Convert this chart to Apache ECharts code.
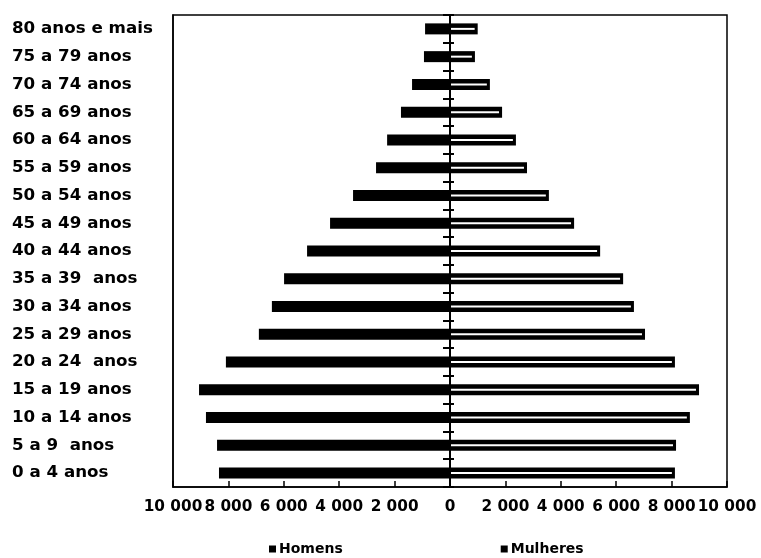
<!DOCTYPE html>
<html>
<head>
<meta charset="utf-8">
<script src="https://cdn.jsdelivr.net/npm/echarts@6/dist/echarts.min.js"></script>
<style>
html,body{margin:0;padding:0;background:#fff;}
#chart{width:761px;height:558px;}
</style>
</head>
<body>
<div id="chart"></div>
<script>
var categories = ["0 a 4 anos","5 a 9  anos","10 a 14 anos","15 a 19 anos","20 a 24  anos","25 a 29 anos","30 a 34 anos","35 a 39  anos","40 a 44 anos","45 a 49 anos","50 a 54 anos","55 a 59 anos","60 a 64 anos","65 a 69 anos","70 a 74 anos","75 a 79 anos","80 anos e mais"];
var homens = [8340, 8410, 8810, 9060, 8090, 6900, 6430, 5990, 5160, 4330, 3500, 2670, 2270, 1770, 1370, 940, 900];
var mulheres = [8120, 8160, 8660, 8990, 8120, 7040, 6640, 6250, 5420, 4480, 3570, 2780, 2380, 1880, 1440, 900, 1000];
var xTicks = [-10000, -8000, -6000, -4000, -2000, 0, 2000, 4000, 6000, 8000, 10000];

var FONT = 'DejaVu Sans';
function fmt(v){
  var s = String(Math.abs(v));
  return s.replace(/\B(?=(\d{3})+(?!\d))/g, ' ');
}
var chart = echarts.init(document.getElementById('chart'));
var gridLeft = 173, gridRight = 34;
var halfW = (761 - gridLeft - gridRight) / 2;
chart.setOption({
  animation: false,
  backgroundColor: '#fff',
  textStyle: {fontFamily: FONT},
  grid: {left: gridLeft, right: gridRight, top: 15, bottom: 71, show: true, borderColor: '#000', borderWidth: 1.5, backgroundColor: 'transparent'},
  legend: {
    data: ['Homens', 'Mulheres'],
    left: 264, top: 537,
    itemWidth: 7, itemHeight: 7, itemGap: 158,
    icon: 'rect',
    textStyle: {fontFamily: FONT, fontWeight: 'bold', fontSize: 14, color: '#000', padding: [0,0,0,-2]}
  },
  xAxis: {
    type: 'value', min: xTicks[0], max: xTicks[xTicks.length-1], interval: 2000,
    axisLine: {show: true, lineStyle: {color: '#000', width: 1.5}},
    axisTick: {show: true, inside: true, length: 6, lineStyle: {color: '#000', width: 1.5}},
    splitLine: {show: false},
    axisLabel: {formatter: fmt, color: '#000', fontFamily: FONT, fontWeight: 'bold', fontSize: 15.3, margin: 13,
      showMinLabel: true, showMaxLabel: true, hideOverlap: false, interval: 0}
  },
  yAxis: [
    {
      type: 'category', data: categories,
      axisLine: {show: true, onZero: false, lineStyle: {color: '#000', width: 1.5}},
      axisTick: {show: false},
      axisLabel: {align: 'left', margin: gridLeft - 12, color: '#000', fontFamily: FONT, fontWeight: 'bold', fontSize: 16.7}
    },
    {
      type: 'category', data: categories, position: 'left', offset: -halfW, z: 10,
      axisLine: {show: true, onZero: false, lineStyle: {color: '#000', width: 2}},
      axisTick: {show: true, length: 7, lineStyle: {color: '#000', width: 2}},
      axisLabel: {show: false}
    },
    {
      type: 'category', data: categories, position: 'left', offset: -halfW, z: 10,
      axisLine: {show: false, onZero: false},
      axisTick: {show: true, inside: true, length: 4, lineStyle: {color: '#000', width: 2}},
      axisLabel: {show: false}
    }
  ],
  series: [
    {
      name: 'Homens', type: 'bar', yAxisIndex: 0,
      data: homens.map(function(v){ return -v; }),
      barWidth: 11, barGap: '-100%',
      itemStyle: {color: '#000'}
    },
    {
      name: 'Mulheres', type: 'bar', yAxisIndex: 0,
      data: mulheres,
      barWidth: 11, barGap: '-100%',
      itemStyle: {color: '#000'}
    },
    {
      name: 'Mulheres_inner', type: 'bar', yAxisIndex: 1,
      data: mulheres.map(function(v){ return v - 110; }),
      barWidth: 2, z: 3,
      itemStyle: {color: '#fff'}, silent: true
    }
  ]
});
</script>
</body>
</html>
